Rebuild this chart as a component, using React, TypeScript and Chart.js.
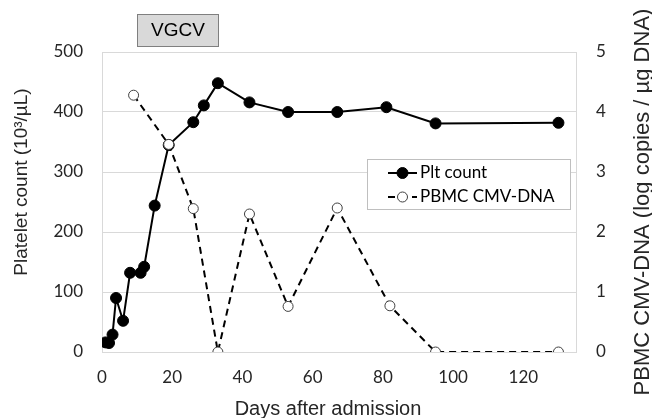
import React, { useEffect, useRef } from "react";
import { Chart, registerables } from "chart.js";

Chart.register(...registerables);

// ---- data ----
const pltDays = [1, 2, 3, 4, 6, 8, 11, 12, 15, 19, 26, 29, 33, 42, 53, 67, 81, 95, 130];
const pltCount = [16, 15, 29, 90, 52, 132, 132, 142, 244, 345, 383, 411, 448, 416, 400, 400, 408, 381, 382];
const cmvDays = [9, 19, 26, 33, 42, 53, 67, 82, 95, 130];
const cmvLog = [4.28, 3.46, 2.39, 0, 2.3, 0.76, 2.4, 0.77, 0, 0];
const xTickValues = [0, 20, 40, 60, 80, 100, 120];
const seriesNames = ["Plt count", "PBMC CMV-DNA"];
const xTitle = "Days after admission";
const yTitle = "Platelet count (10³/µL)";
const y2Title = "PBMC CMV-DNA (log copies / µg DNA)";
const boxLabel = "VGCV";

const TICK_FONT = { family: "Lato", size: 17 };
const TEXT = "#262626";
const GRID = "#d9d9d9";

const decor = {
  id: "decor",
  beforeDatasetsDraw(chart: any) {
    const { ctx, chartArea: a } = chart;
    ctx.save();
    ctx.strokeStyle = GRID;
    ctx.lineWidth = 1;
    ctx.strokeRect(Math.round(a.left) + 0.5, Math.round(a.top) + 0.5, Math.round(a.right - a.left), Math.round(a.bottom - a.top));
    ctx.restore();
  },
  afterDraw(chart: any) {
    const { ctx, chartArea: a } = chart;
    ctx.save();
    // axis titles
    ctx.fillStyle = TEXT;
    ctx.textAlign = "center";
    ctx.textBaseline = "middle";
    ctx.font = "20px 'Liberation Sans'";
    ctx.fillText(xTitle, 328, 409);

    ctx.save();
    ctx.translate(22, 182);
    ctx.rotate(-Math.PI / 2);
    ctx.font = "19px 'Liberation Sans'";
    ctx.fillText(yTitle, 0, 0);
    ctx.restore();

    ctx.save();
    ctx.translate(643, (a.top + a.bottom) / 2);
    ctx.rotate(-Math.PI / 2);
    ctx.font = "22px 'Liberation Sans'";
    ctx.fillText(y2Title, 0, 0);
    ctx.restore();

    // VGCV box
    ctx.fillStyle = "#d9d9d9";
    ctx.fillRect(137.5, 14.5, 81, 32);
    ctx.strokeStyle = "#7f7f7f";
    ctx.lineWidth = 1;
    ctx.strokeRect(137.5, 14.5, 81, 32);
    ctx.fillStyle = "#000";
    ctx.font = "19px 'Liberation Sans'";
    ctx.fillText(boxLabel, 178, 31);

    // legend
    ctx.fillStyle = "#fff";
    ctx.fillRect(367.5, 159.5, 203, 50);
    ctx.strokeStyle = "#bfbfbf";
    ctx.strokeRect(367.5, 159.5, 203, 50);
    const rows = [173, 197];
    chart.data.datasets.forEach((ds: any, i: number) => {
      const y = rows[i];
      ctx.strokeStyle = "#000";
      ctx.lineWidth = 2;
      ctx.setLineDash(ds.borderDash || []);
      ctx.beginPath();
      ctx.moveTo(388, y);
      ctx.lineTo(417, y);
      ctx.stroke();
      ctx.setLineDash([]);
      ctx.beginPath();
      ctx.arc(402.5, y, ds.pointRadius, 0, Math.PI * 2);
      ctx.fillStyle = ds.pointBackgroundColor;
      ctx.fill();
      ctx.lineWidth = 1;
      ctx.strokeStyle = ds.pointBorderColor;
      ctx.stroke();
      ctx.fillStyle = "#000";
      ctx.textAlign = "left";
      ctx.font = "17px Lato";
      ctx.fillText(ds.label, 420, y);
    });
    ctx.restore();
  },
};

export default function App() {
  const ref = useRef<HTMLCanvasElement | null>(null);
  useEffect(() => {
    if (!ref.current) return;
    const chart = new Chart(ref.current, {
      type: "line",
      data: {
        datasets: [
          {
            label: seriesNames[0],
            data: pltDays.map((d, i) => ({ x: d, y: pltCount[i] })),
            yAxisID: "y",
            borderColor: "#000",
            borderWidth: 2,
            pointRadius: 5.5,
            pointBackgroundColor: "#000",
            pointBorderColor: "#000",
            pointBorderWidth: 1,
            tension: 0,
            order: 2,
          },
          {
            label: seriesNames[1],
            data: cmvDays.map((d, i) => ({ x: d, y: cmvLog[i] })),
            yAxisID: "y2",
            borderColor: "#000",
            borderWidth: 2,
            borderDash: [7, 5],
            pointRadius: 5,
            pointBackgroundColor: "#fff",
            pointBorderColor: "#404040",
            pointBorderWidth: 1,
            tension: 0,
            order: 1,
          },
        ],
      },
      options: {
        responsive: false,
        animation: false,
        layout: { padding: { top: 52, left: 0, right: 0, bottom: 0 } },
        plugins: { legend: { display: false }, tooltip: { enabled: false }, title: { display: false } },
        scales: {
          x: {
            type: "linear",
            min: 0,
            max: 135,
            afterBuildTicks: (s: any) => {
              s.ticks = xTickValues.map((v) => ({ value: v }));
            },
            ticks: { font: TICK_FONT, color: TEXT, padding: 15, maxRotation: 0, autoSkip: false },
            grid: { display: false, drawTicks: false },
            border: { display: false },
            afterFit: (s: any) => {
              s.height = 66;
            },
          },
          y: {
            position: "left",
            min: 0,
            max: 500,
            ticks: { stepSize: 100, font: TICK_FONT, color: TEXT, padding: 19 },
            grid: { color: GRID, lineWidth: 1, drawTicks: false },
            border: { display: false },
            afterFit: (s: any) => {
              s.width = 102;
            },
          },
          y2: {
            position: "right",
            min: 0,
            max: 5,
            ticks: { stepSize: 1, font: TICK_FONT, color: TEXT, padding: 20 },
            grid: { display: false, drawTicks: false },
            border: { display: false },
            afterFit: (s: any) => {
              s.width = 76;
            },
          },
        },
      },
      plugins: [decor],
    });
    return () => chart.destroy();
  }, []);
  return (
    <div style={{ position: "fixed", left: 0, top: 0, width: 652, height: 418, background: "#fff" }}>
      <canvas ref={ref} width={652} height={418} style={{ width: 652, height: 418, display: "block" }} />
    </div>
  );
}
